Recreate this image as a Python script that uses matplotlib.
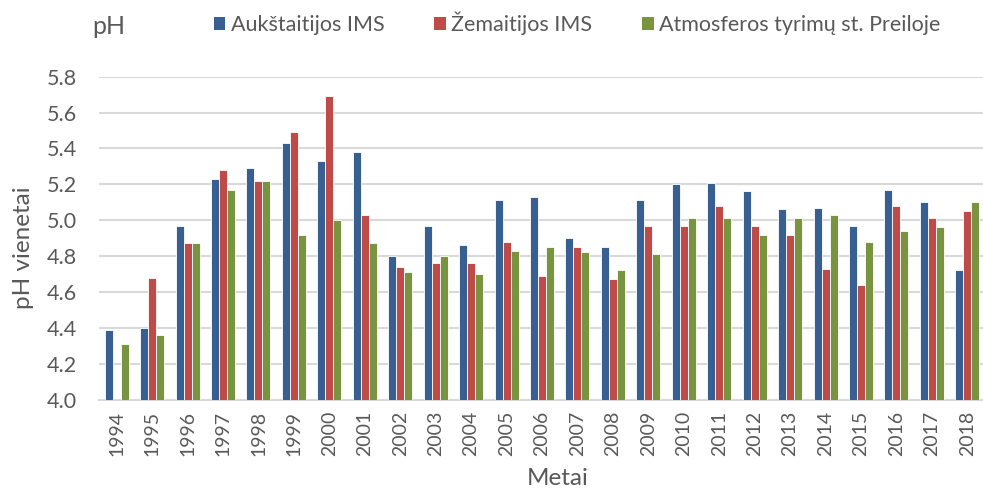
import numpy as np
import matplotlib.pyplot as plt
from matplotlib.patches import Patch

plt.rcParams['font.family'] = ['Lato', 'DejaVu Sans']

years = list(range(1994, 2019))
aukstaitijos = [4.39, 4.40, 4.97, 5.23, 5.29, 5.43, 5.33, 5.38, 4.80, 4.97, 4.86, 5.11, 5.13,
                4.90, 4.85, 5.11, 5.20, 5.21, 5.16, 5.06, 5.07, 4.97, 5.17, 5.10, 4.72]
zemaitijos = [np.nan, 4.68, 4.87, 5.28, 5.22, 5.49, 5.69, 5.03, 4.74, 4.76, 4.76, 4.88, 4.69,
              4.85, 4.67, 4.97, 4.97, 5.08, 4.97, 4.92, 4.73, 4.64, 5.08, 5.01, 5.05]
preila = [4.31, 4.36, 4.87, 5.17, 5.22, 4.92, 5.00, 4.87, 4.71, 4.80, 4.70, 4.83, 4.85,
          4.82, 4.72, 4.81, 5.01, 5.01, 4.92, 5.01, 5.03, 4.88, 4.94, 4.96, 5.10]
series_names = ['Aukštaitijos IMS', 'Žemaitijos IMS', 'Atmosferos tyrimų st. Preiloje']
colors = ['#375f91', '#be4b48', '#789440']

text_col = '#595959'
base = 4.0

fig = plt.figure(figsize=(9.83, 4.9), dpi=100)
ax = fig.add_axes([99 / 983, 1 - 399.5 / 490, 886 / 983, (399.5 - 76.7) / 490])

x = np.arange(len(years))
w = 0.226
for i, (vals, c) in enumerate(zip([aukstaitijos, zemaitijos, preila], colors)):
    v = np.array(vals, dtype=float)
    ax.bar(x + (i - 1) * w, v - base, w, bottom=base, color=c,
           edgecolor='white', linewidth=0.6, zorder=3)

ax.set_xlim(-0.5, len(years) - 0.5)
ax.set_ylim(4.0, 5.8)
ax.set_yticks(np.arange(4.0, 5.81, 0.2))
ax.set_yticklabels(['%.1f' % t for t in np.arange(4.0, 5.81, 0.2)])
ax.set_xticks(x)
ax.set_xticklabels([str(y) for y in years], rotation=90)
ax.tick_params(axis='y', length=0, colors=text_col, labelsize=15.5, pad=16)
ax.tick_params(axis='x', length=0, colors=text_col, labelsize=14, pad=8)
ax.yaxis.grid(True, color='#d9d9d9', linewidth=1.5, zorder=0)
for s in ['top', 'right', 'left']:
    ax.spines[s].set_visible(False)
ax.spines['bottom'].set_color('#d9d9d9')
ax.spines['bottom'].set_linewidth(1.5)

fig.text(24 / 983, 1 - 248 / 490, 'pH vienetai', rotation=90, ha='center', va='center',
         color=text_col, fontsize=17.5)
fig.text(558 / 983, 1 - 485 / 490, 'Metai', ha='center', va='baseline',
         color=text_col, fontsize=17.5)
fig.text(109 / 983, 1 - 26 / 490, 'pH', ha='center', va='center',
         color=text_col, fontsize=18)

handles = [Patch(facecolor=c, edgecolor='none') for c in colors]
fig.legend(handles, series_names, loc='center', bbox_to_anchor=(577 / 983, 1 - 23 / 490),
           ncol=3, frameon=False, fontsize=15.5, labelcolor=text_col,
           handlelength=0.55, handleheight=0.55, handletextpad=0.25, columnspacing=2.3)

fig.savefig('out.png', dpi=100)
